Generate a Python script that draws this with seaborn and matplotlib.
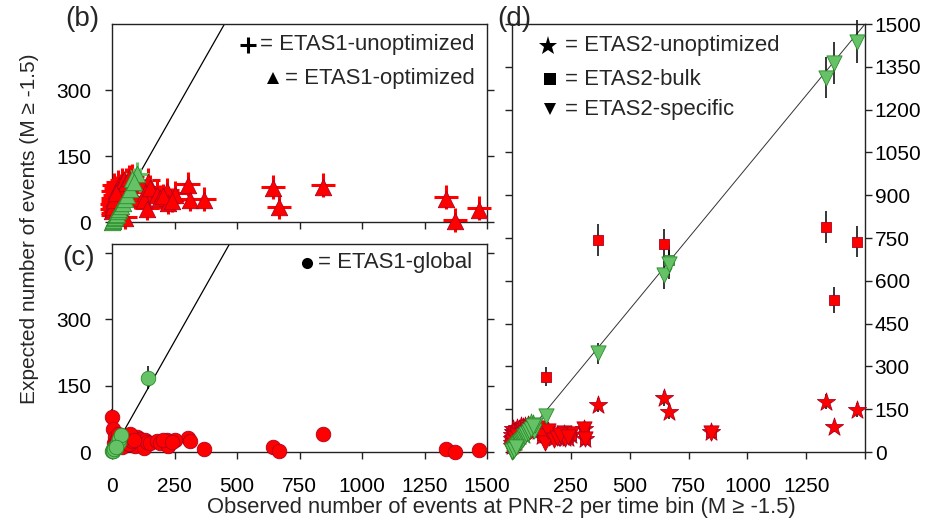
import numpy as np
import pandas as pd
import matplotlib
matplotlib.use("Agg")
import matplotlib.pyplot as plt
import seaborn as sns

sns.set_theme(style="white")
plt.rcParams["font.family"] = ["Liberation Sans", "DejaVu Sans"]

# Observed number of events per time bin at PNR-2 (M >= -1.5)
observed = [
    145, 305, 310, 367, 645, 668, 845, 1335, 1370, 1467,
    92, 99, 112, 132, 128, 139, 152, 179, 192, 219, 225, 252, 52, 205, 240,
    0, 1, 2, 3, 4, 5, 6, 8, 10, 12, 14, 16, 18, 20, 23, 26, 29, 32, 35, 38,
    42, 46, 50, 55, 60, 66, 72, 80, 88, 2, 7, 15,
]

# Expected number of events per time bin for each forecast model
etas1_unoptimized = [
    95, 87, 52, 52, 80, 35, 83, 56, 5, 31,
    57, 110, 95, 69, 53, 31, 80, 65, 57, 72, 46, 65, 12, 60, 50,
    40, 30, 55, 20, 70, 48, 85, 35, 62, 25, 78, 52, 42, 68, 92, 58, 82, 50, 72, 96,
    64, 88, 70, 95, 80, 102, 90, 105, 96, 15, 45, 28,
]
etas1_optimized = [
    92, 85, 50, 50, 78, 33, 80, 52, 3, 28,
    55, 108, 92, 66, 50, 30, 78, 62, 55, 70, 44, 62, 10, 58, 48,
    1, 25, 3, 40, 5, 30, 8, 55, 11, 45, 15, 70, 19, 60, 24, 85, 30, 75, 36, 90,
    44, 95, 52, 88, 62, 100, 74, 98, 92, 35, 50, 65,
]
etas1_global = [
    168, 31, 24, 6, 12, 3, 41, 6, 1, 4,
    14, 35, 30, 28, 8, 22, 20, 25, 20, 28, 14, 28, 20, 26, 22,
    80, 3, 52, 4, 2, 6, 20, 8, 35, 12, 25, 10, 30, 18, 40, 22, 30, 15, 38, 12,
    30, 20, 35, 25, 30, 18, 40, 24, 28, 2, 7, 12,
]
etas2_unoptimized = [
    80, 80, 44, 165, 188, 141, 71, 176, 89, 147,
    70, 85, 75, 65, 55, 60, 72, 50, 60, 62, 48, 58, 60, 55, 50,
    45, 30, 60, 25, 70, 50, 80, 40, 65, 35, 75, 55, 45, 70, 85, 60, 80, 55, 75, 90,
    70, 88, 75, 92, 85, 95, 90, 100, 98, 20, 50, 35,
]
etas2_bulk = [
    264, 83, 46, 743, 728, 673, 71, 790, 533, 737,
    72, 88, 80, 70, 60, 62, 75, 55, 62, 65, 50, 60, 65, 58, 52,
    42, 35, 55, 28, 65, 48, 75, 45, 60, 38, 70, 58, 50, 72, 80, 62, 78, 60, 70, 85,
    72, 90, 78, 95, 88, 92, 94, 98, 100, 25, 48, 40,
]
etas2_specific = [
    127, 80, 44, 346, 620, 658, 68, 1312, 1362, 1438,
    75, 95, 85, 70, 55, 30, 72, 42, 50, 65, 45, 62, 55, 60, 52,
    0, 20, 3, 4, 5, 35, 7, 9, 11, 45, 15, 17, 19, 55, 24, 27, 30, 33, 36, 40,
    43, 47, 52, 56, 62, 68, 74, 82, 90, 3, 8, 16,
]

df = pd.DataFrame({
    "observed": observed,
    "etas1_unoptimized": etas1_unoptimized,
    "etas1_optimized": etas1_optimized,
    "etas1_global": etas1_global,
    "etas2_unoptimized": etas2_unoptimized,
    "etas2_bulk": etas2_bulk,
    "etas2_specific": etas2_specific,
})

RED, RED_EDGE = "#ff0000", "#b0001e"
GREEN, GREEN_EDGE = "#66c266", "#2a8a2a"
FS_TICK = 15
FS_KEY = 15.9
FS_LABEL = 15.8

W, H = 930, 529


def box(left, top, right, bottom):
    return [left / W, 1 - bottom / H, (right - left) / W, (bottom - top) / H]


fig = plt.figure(figsize=(W / 100, H / 100), dpi=100)
ax_b = fig.add_axes(box(112, 24, 487, 222))
ax_c = fig.add_axes(box(112, 244, 487, 452))
ax_d = fig.add_axes(box(512, 24, 865, 452))


def draw_model(ax, column, marker, size, lw=0.6, plus=False):
    """Scatter one model's forecasts with ~95% Poisson intervals;
    green where the observation falls inside the interval, red otherwise."""
    d = df[["observed", column]].rename(columns={column: "expected"})
    half = 2 * np.sqrt(np.maximum(d["expected"], 1))
    inside = (d["observed"] - d["expected"]).abs() <= half
    ax.errorbar(d["observed"], d["expected"], yerr=half, fmt="none",
                ecolor="black", elinewidth=1.1, capsize=0, zorder=2,
                clip_on=False)
    for mask, face, edge in ((~inside, RED, RED_EDGE), (inside, GREEN, GREEN_EDGE)):
        sub = d[mask]
        if plus:
            sns.scatterplot(data=sub, x="observed", y="expected", marker=marker,
                            s=size, color=face, linewidth=lw, ax=ax,
                            legend=False, zorder=3, clip_on=False)
        else:
            sns.scatterplot(data=sub, x="observed", y="expected", marker=marker,
                            s=size, color=face, edgecolor=edge, linewidth=lw,
                            ax=ax, legend=False, zorder=3, clip_on=False)


# (b) ETAS1 unoptimized / optimized
draw_model(ax_b, "etas1_unoptimized", "+", 300, lw=2.2, plus=True)
draw_model(ax_b, "etas1_optimized", "^", 140)
# (c) ETAS1 global
draw_model(ax_c, "etas1_global", "o", 110)
# (d) ETAS2 variants
draw_model(ax_d, "etas2_unoptimized", "*", 190)
draw_model(ax_d, "etas2_bulk", "s", 55)
draw_model(ax_d, "etas2_specific", "v", 120)

# one-to-one reference lines
for ax, lw, col in ((ax_b, 0.9, "black"), (ax_c, 0.9, "black"),
                    (ax_d, 0.7, "#333333")):
    ax.plot([0, 1500], [0, 1500], color=col, lw=lw, zorder=1)

ax_b.set(xlim=(0, 1500), ylim=(0, 450))
ax_c.set(xlim=(0, 1500), ylim=(0, 470))
ax_d.set(xlim=(0, 1500), ylim=(0, 1500))

xt = [0, 250, 500, 750, 1000, 1250, 1500]
for ax in (ax_b, ax_c, ax_d):
    ax.set_xlabel("")
    ax.set_ylabel("")
    ax.set_xticks(xt)
    for s in ax.spines.values():
        s.set_color("#222222")
        s.set_linewidth(1.0)
    ax.tick_params(axis="both", colors="#222222", labelcolor="black",
                   labelsize=FS_TICK, length=5, width=1.0, direction="out")

ax_b.set_yticks([0, 150, 300])
ax_b.tick_params(axis="x", labelbottom=False)
ax_b.tick_params(axis="y", left=True, right=True, labelleft=True, pad=10)
ax_b.tick_params(axis="x", bottom=True, pad=10)

ax_c.set_yticks([0, 150, 300, 450])
ax_c.set_yticklabels(["0", "150", "300", ""])
ax_c.tick_params(axis="y", left=True, right=True, labelleft=True, pad=10)
ax_c.tick_params(axis="x", bottom=True, pad=13)

ax_d.set_yticks(np.arange(0, 1501, 150))
ax_d.set_xticklabels(["", "250", "500", "750", "1000", "1250", ""])
ax_d.tick_params(axis="y", left=True, right=True, labelleft=False,
                 labelright=True, pad=2)
ax_d.tick_params(axis="x", bottom=True, pad=13)


def key(ax, mx, tx, y, marker, ms, label):
    """Marker symbol at pixel mx, '= label' text starting at pixel tx."""
    x0 = ax.get_position().x0 * W
    width = ax.get_position().width * W
    ax.plot([(mx - x0) / width], [y], marker=marker, ms=ms, color="black",
            mew=2.2 if marker == "+" else 0, transform=ax.transAxes,
            clip_on=False, ls="none")
    ax.text((tx - x0) / width, y, label, transform=ax.transAxes,
            ha="left", va="center", fontsize=FS_KEY)


key(ax_b, 248, 260, 0.894, "+", 12, "= ETAS1-unoptimized")
key(ax_b, 273, 285, 0.727, "^", 9, "= ETAS1-optimized")
key(ax_c, 307, 318, 0.909, "o", 8, "= ETAS1-global")
key(ax_d, 548, 565, 0.949, "*", 14, "= ETAS2-unoptimized")
key(ax_d, 550, 565, 0.871, "s", 8, "= ETAS2-bulk")
key(ax_d, 550, 565, 0.801, "v", 9, "= ETAS2-specific")

fig.text(65 / W, 1 - 19 / H, "(b)", fontsize=20, va="center", ha="left")
fig.text(62 / W, 1 - 258 / H, "(c)", fontsize=20, va="center", ha="left")
fig.text(497 / W, 1 - 19 / H, "(d)", fontsize=20, va="center", ha="left")

fig.text(30 / W, 1 - 229 / H, "Expected number of events (M \u2265 -1.5)",
         rotation=90, ha="center", va="center", fontsize=15)
fig.text(501 / W, 1 - 508 / H,
         "Observed number of events at PNR-2 per time bin (M \u2265 -1.5)",
         ha="center", va="center", fontsize=FS_LABEL)

fig.savefig("out.png", dpi=100)
